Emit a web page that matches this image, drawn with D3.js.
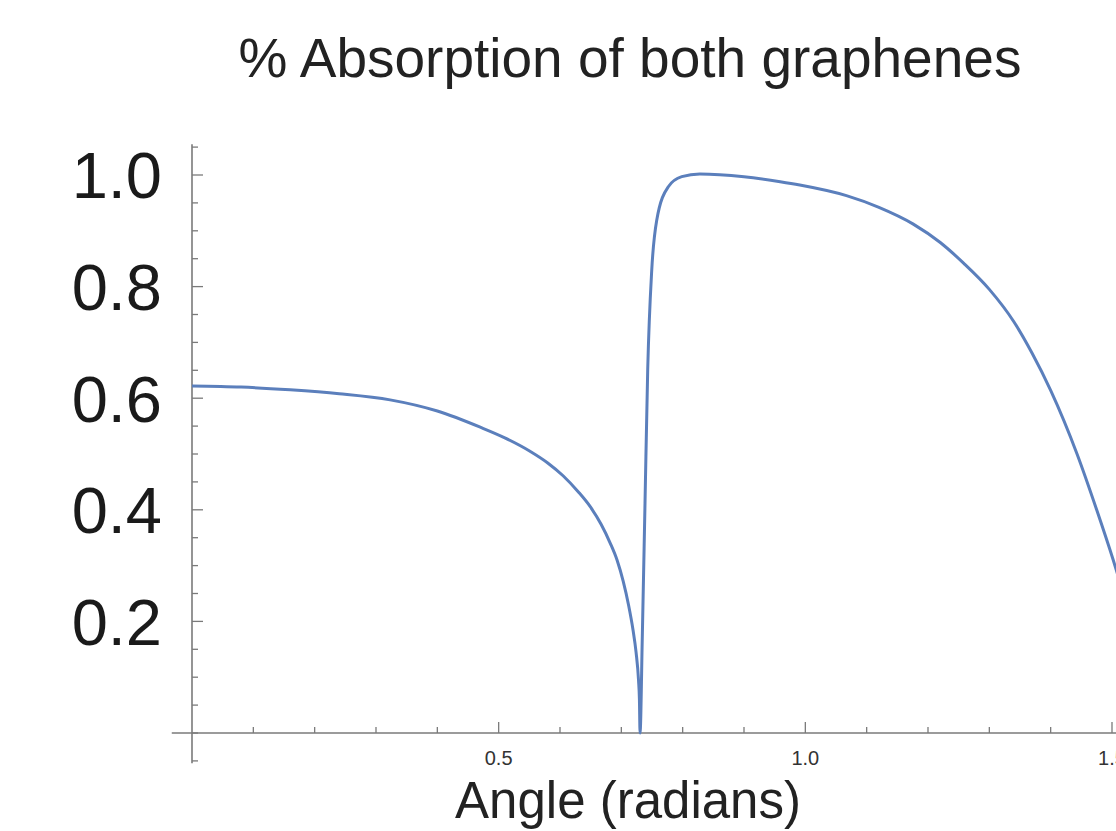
<!DOCTYPE html>
<html>
<head>
<meta charset="utf-8">
<script src="https://cdn.jsdelivr.net/npm/d3@7"></script>
<style>
  html, body { margin: 0; padding: 0; background: #fff; overflow: hidden; }
  svg { display: block; }
</style>
</head>
<body>
<svg id="chart" width="1116" height="831"></svg>
<script>
// ---- data ----
const angle = [0, 0.08, 0.16, 0.24, 0.323, 0.40, 0.47, 0.51, 0.551, 0.58, 0.605, 0.63, 0.649, 0.667, 0.682,
  0.693, 0.703, 0.712, 0.719, 0.724, 0.728, 0.7295, 0.7305,
  0.7342, 0.7386, 0.7430, 0.7496, 0.7577, 0.7766, 0.7985, 0.828, 0.90, 0.959, 0.991, 1.067, 1.12, 1.176, 1.22,
  1.258, 1.30, 1.34, 1.37, 1.40, 1.443, 1.475, 1.502, 1.52];
const absorption = [0.622, 0.620, 0.615, 0.608, 0.597, 0.577, 0.548, 0.529, 0.505, 0.484, 0.461, 0.432, 0.406, 0.374, 0.340,
  0.310, 0.272, 0.228, 0.185, 0.145, 0.095, 0.060, 0.0,
  0.173, 0.412, 0.651, 0.830, 0.919, 0.979, 0.997, 1.002, 0.997, 0.988, 0.982, 0.963, 0.942, 0.912, 0.879,
  0.842, 0.795, 0.737, 0.680, 0.614, 0.500, 0.400, 0.310, 0.245];
const yMajorTicks = [0.2, 0.4, 0.6, 0.8, 1.0];
const yTickLabels = ["0.2", "0.4", "0.6", "0.8", "1.0"];
const xMajorTicks = [0.5, 1.0, 1.5];
const xTickLabels = ["0.5", "1.0", "1.5"];
const titleText = "% Absorption of both graphenes";
const xLabelText = "Angle (radians)";

// ---- layout ----
const svg = d3.select("#chart");
const x = d3.scaleLinear().domain([0, 1.5]).range([192, 1112]);
const y = d3.scaleLinear().domain([0, 1]).range([733, 175]);
const axisColor = "#7a7a7a";
const font = "'Liberation Sans', Arial, Helvetica, sans-serif";

// title
svg.append("text")
  .attr("x", 630).attr("y", 77)
  .attr("text-anchor", "middle")
  .attr("font-family", font).attr("font-size", 55)
  .attr("fill", "#222")
  .text(titleText);

// y axis
const yMinor = d3.range(-0.05, 1.0501, 0.05).map(v => +v.toFixed(2));
const gy = svg.append("g").attr("transform", `translate(${x(0)},0)`);
gy.append("line")
  .attr("x1", 0).attr("x2", 0)
  .attr("y1", y(-0.054)).attr("y2", y(1.055))
  .attr("stroke", axisColor).attr("stroke-width", 1.6);
gy.selectAll("line.tick").data(yMinor).join("line")
  .attr("class", "tick")
  .attr("x1", 0)
  .attr("x2", d => yMajorTicks.some(m => Math.abs(m - d) < 1e-6) ? 11 : 6)
  .attr("y1", d => y(d)).attr("y2", d => y(d))
  .attr("stroke", axisColor).attr("stroke-width", 1.3);
svg.selectAll("text.ylab").data(yMajorTicks).join("text")
  .attr("class", "ylab")
  .attr("x", 162)
  .attr("y", d => y(d))
  .attr("dy", "0.36em")
  .attr("text-anchor", "end")
  .attr("font-family", font).attr("font-size", 65)
  .attr("fill", "#1a1a1a")
  .text((d, i) => yTickLabels[i]);

// x axis
const xMinor = d3.range(0.1, 1.5001, 0.1).map(v => +v.toFixed(2));
const gx = svg.append("g").attr("transform", `translate(0,${y(0)})`);
gx.append("line")
  .attr("x1", x(-0.033)).attr("x2", 1116)
  .attr("y1", 0).attr("y2", 0)
  .attr("stroke", axisColor).attr("stroke-width", 1.6);
gx.selectAll("line.tick").data(xMinor).join("line")
  .attr("class", "tick")
  .attr("x1", d => x(d)).attr("x2", d => x(d))
  .attr("y1", 0)
  .attr("y2", d => xMajorTicks.some(m => Math.abs(m - d) < 1e-6) ? -11 : -6)
  .attr("stroke", axisColor).attr("stroke-width", 1.3);
svg.selectAll("text.xlab").data(xMajorTicks).join("text")
  .attr("class", "xlab")
  .attr("x", d => x(d))
  .attr("y", 765)
  .attr("text-anchor", "middle")
  .attr("font-family", font).attr("font-size", 20)
  .attr("fill", "#333")
  .text((d, i) => xTickLabels[i]);

// x axis title
svg.append("text")
  .attr("x", 628).attr("y", 818)
  .attr("text-anchor", "middle")
  .attr("font-family", font).attr("font-size", 51)
  .attr("fill", "#222")
  .text(xLabelText);

// curve
const pts = angle.map((a, i) => [a, absorption[i]]);
const line = d3.line()
  .x(d => x(d[0]))
  .y(d => y(d[1]))
  .curve(d3.curveMonotoneX);
svg.append("path")
  .datum(pts)
  .attr("d", line)
  .attr("fill", "none")
  .attr("stroke", "#5b7fbc")
  .attr("stroke-width", 3)
  .attr("stroke-linejoin", "round");
</script>
</body>
</html>
